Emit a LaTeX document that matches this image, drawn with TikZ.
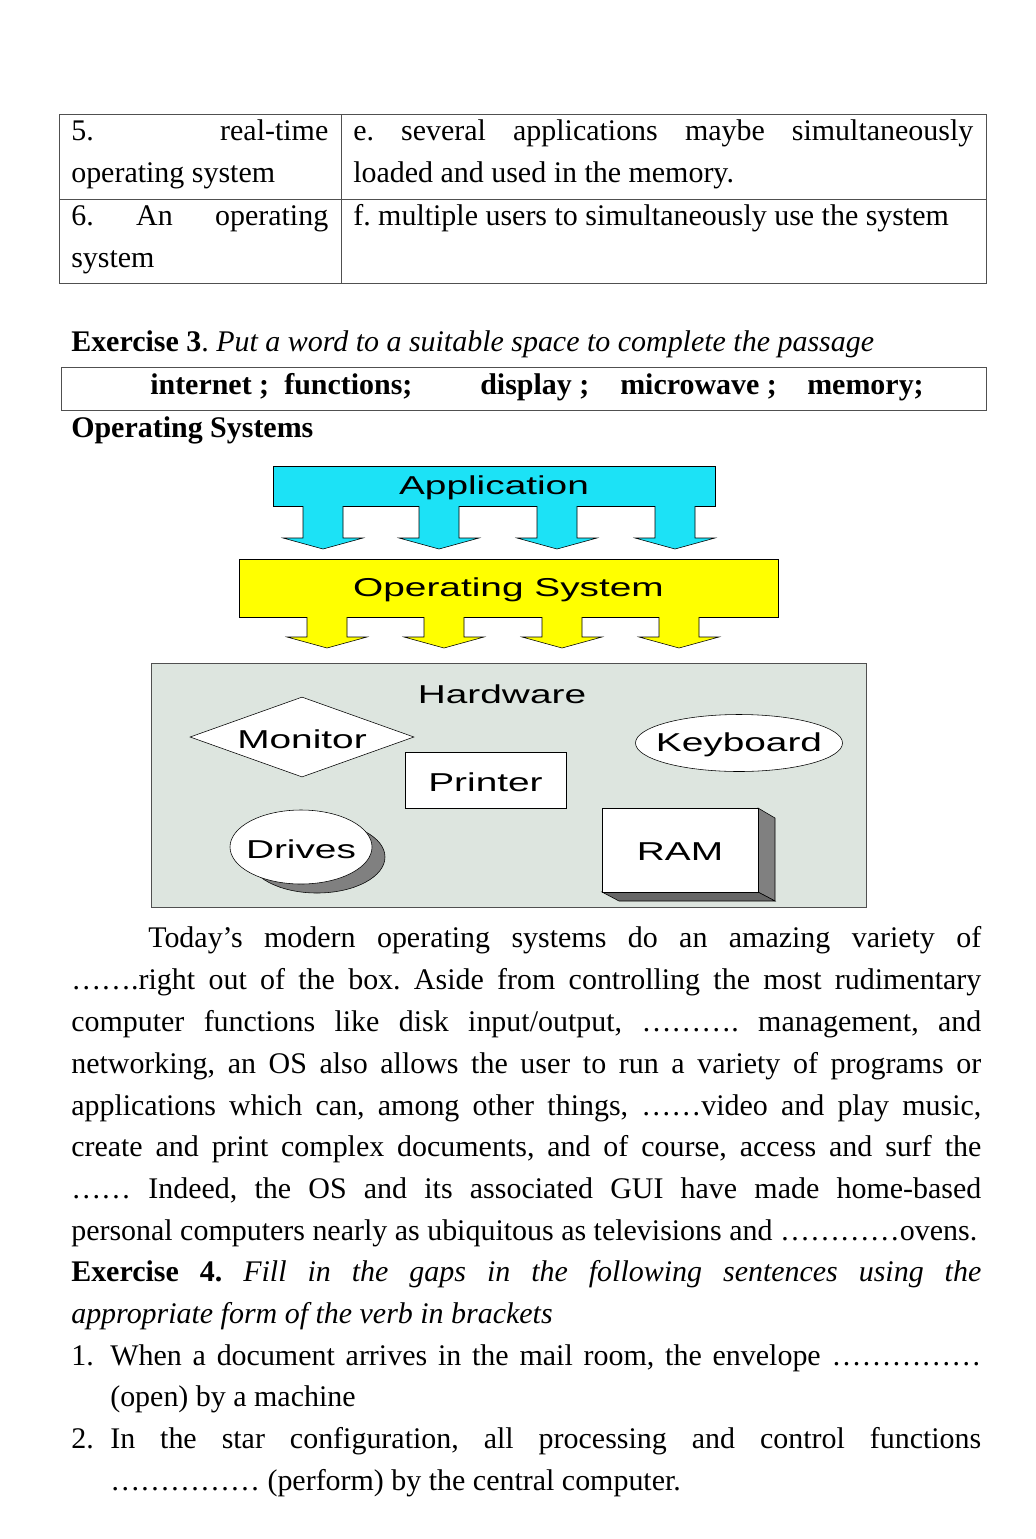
\documentclass[tikz,border=0pt]{standalone}
\usepackage{fontspec}
\setmainfont{Liberation Serif}
\newfontfamily\hwfont[FakeStretch=1.5]{Liberation Sans}
\usetikzlibrary{positioning,shapes.geometric}
\newlength{\pxu}
\setlength{\pxu}{0.025cm}
\definecolor{appcyan}{RGB}{28,226,246}
\definecolor{osyellow}{RGB}{255,255,0}
\definecolor{hwgray}{RGB}{221,229,223}
\definecolor{shadegray}{RGB}{128,128,128}
\definecolor{rulegray}{RGB}{80,80,80}
\tikzset{
  txt/.style={inner sep=0pt,anchor=base west,font=\fontsize{21.3pt}{26pt}\selectfont},
  hwtxt/.style={inner sep=0pt,yshift=-2\pxu,font=\hwfont\fontsize{18.4pt}{22pt}\selectfont},
  shapebox/.style={draw=black,fill=white,inner sep=0pt}
}
\frenchspacing

\begin{document}
\begin{tikzpicture}[x=0.025cm,y=-0.025cm]
\useasboundingbox[fill=white] (0,0) rectangle (1035,1539);
% table
\draw[rulegray] (59,114) rectangle (986,283);
\draw[rulegray] (341,114) -- (341,283);
\draw[rulegray] (59,199) -- (986,199);
\node[txt] (t1a) at (71,140) {\hbox to 257\pxu{5.\hfill real-time}};
\node[txt] (t1b) at (71,182) {operating system};
\node[txt] (t1c) at (353,140) {\hbox to 620\pxu{e. several applications maybe simultaneously}};
\node[txt] (t1d) at (353,182) {loaded and used in the memory.};
\node[txt] (t2a) at (71,225) {\hbox to 257\pxu{6.\hfill An\hfill operating}};
\node[txt] (t2b) at (71,267) {system};
\node[txt] (t2c) at (353,225) {f. multiple users to simultaneously use the system};
%
\node[txt] (ex3) at (71,351) {\textbf{Exercise 3}. \textit{Put a word to a suitable space to complete the passage}};
\draw[rulegray] (61,367) rectangle (986,410);
\node[txt] (w1) at (150,394) {\textbf{internet ;}};
\node[txt] (w2) at (284,394) {\textbf{functions;}};
\node[txt] (w3) at (480,394) {\textbf{display ;}};
\node[txt] (w4) at (620,394) {\textbf{microwave ;}};
\node[txt] (w5) at (807,394) {\textbf{memory;}};
\node[txt] (title) at (71,437) {\textbf{Operating Systems}};
% application layer
\node[draw=black,fill=appcyan,minimum width=442\pxu,minimum height=40\pxu,inner sep=0pt] (app) at (494,486) {};
\node[hwtxt] (applbl) at (app) {Application};
\foreach \x in {323,439,557,675}{
  \fill[appcyan] (\x-20,505) -- (\x-20,538) -- (\x-40,538) -- (\x,549) -- (\x+40,538) -- (\x+20,538) -- (\x+20,505) -- cycle;
  \draw (\x-20,506) -- (\x-20,538) -- (\x-40,538) -- (\x,549) -- (\x+40,538) -- (\x+20,538) -- (\x+20,506);
}
% operating system layer
\node[draw=black,fill=osyellow,minimum width=539\pxu,minimum height=58\pxu,inner sep=0pt] (os) at (508.5,588) {};
\node[hwtxt] (oslbl) at (os) {Operating System};
\foreach \x in {327,444,562,679}{
  \fill[osyellow] (\x-20,616) -- (\x-20,637) -- (\x-40,637) -- (\x,648) -- (\x+40,637) -- (\x+20,637) -- (\x+20,616) -- cycle;
  \draw (\x-20,617) -- (\x-20,637) -- (\x-40,637) -- (\x,648) -- (\x+40,637) -- (\x+20,637) -- (\x+20,617);
}
% hardware
\node[draw=rulegray,fill=hwgray,minimum width=715\pxu,minimum height=244\pxu,inner sep=0pt] (hw) at (508.5,785) {};
\node[hwtxt] (hwlbl) at (502,692) {Hardware};
\node[shapebox,diamond,aspect=2.8,minimum width=224\pxu,minimum height=80\pxu] (mon) at (302,737) {};
\node[hwtxt] (monlbl) at (mon) {Monitor};
\node[shapebox,minimum width=161\pxu,minimum height=56\pxu] (prn) at (485.5,780) {};
\node[hwtxt] (prnlbl) at (prn) {Printer};
\node[shapebox,ellipse,minimum width=207\pxu,minimum height=57\pxu] (kbd) at (739,743) {};
\node[hwtxt] (kbdlbl) at (kbd) {Keyboard};
\node[draw=black,fill=shadegray,ellipse,inner sep=0pt,minimum width=136\pxu,minimum height=72\pxu] (drvshade) at (317,857) {};
\node[shapebox,ellipse,minimum width=142\pxu,minimum height=74\pxu] (drv) at (301,847) {};
\node[hwtxt] (drvlbl) at (drv) {Drives};
\filldraw[fill=shadegray,draw=black] (758,808) -- (775,818) -- (775,901) -- (758,892) -- cycle;
\filldraw[fill=shadegray!80!black,draw=black] (602,892) -- (619,901) -- (775,901) -- (758,892) -- cycle;
\node[shapebox,minimum width=156\pxu,minimum height=84\pxu] (ram) at (680,850) {};
\node[hwtxt] (ramlbl) at (ram) {RAM};
% passage
\node[txt] (p1) at (148,947) {\hbox to 833\pxu{Today’s modern operating systems do an amazing variety of}};
\node[txt] (p2) at (71,989) {\hbox to 910\pxu{…….right out of the box. Aside from controlling the most rudimentary}};
\node[txt] (p3) at (71,1031) {\hbox to 910\pxu{computer functions like disk input/output, ………. management, and}};
\node[txt] (p4) at (71,1073) {\hbox to 910\pxu{networking, an OS also allows the user to run a variety of programs or}};
\node[txt] (p5) at (71,1115) {\hbox to 910\pxu{applications which can, among other things, ……video and play music,}};
\node[txt] (p6) at (71,1156) {\hbox to 910\pxu{create and print complex documents, and of course, access and surf the}};
\node[txt] (p7) at (71,1198) {\hbox to 910\pxu{…… Indeed, the OS and its associated GUI have made home-based}};
\node[txt] (p8) at (71,1240) {personal computers nearly as ubiquitous as televisions and …………ovens.};
% exercise 4
\node[txt] (ex4a) at (71,1281) {\hbox to 910\pxu{\textbf{Exercise 4.} \itshape Fill in the gaps in the following sentences using the}};
\node[txt] (ex4b) at (71,1323) {\textit{appropriate form of the verb in brackets}};
\node[txt] (n1) at (71,1365) {1.};
\node[txt] (q1a) at (110,1365) {\hbox to 871\pxu{When a document arrives in the mail room, the envelope ……………}};
\node[txt] (q1b) at (110,1406) {(open) by a machine};
\node[txt] (n2) at (71,1448) {2.};
\node[txt] (q2a) at (110,1448) {\hbox to 871\pxu{In the star configuration, all processing and control functions}};
\node[txt] (q2b) at (110,1490) {…………… (perform) by the central computer.};
\end{tikzpicture}
\end{document}
